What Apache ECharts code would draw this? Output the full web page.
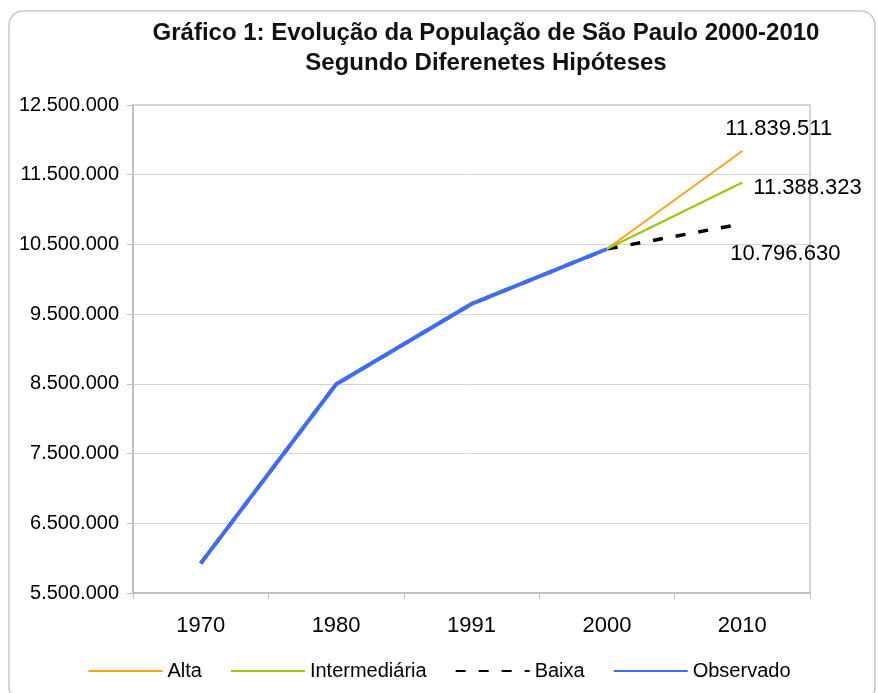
<!DOCTYPE html>
<html>
<head>
<meta charset="utf-8">
<script src="https://cdn.jsdelivr.net/npm/echarts@6/dist/echarts.min.js"></script>
<style>
  html, body { margin: 0; padding: 0; background: #fff; }
  #main { width: 878px; height: 693px; }
</style>
</head>
<body>
<div id="main"></div>
<script>
// anos e valores
var anos = ['1970', '1980', '1991', '2000', '2010'];
var observado = [5924615, 8493226, 9646185, 10434252, null];
var alta = [null, null, null, 10434252, 11839511];
var intermediaria = [null, null, null, 10434252, 11388323];
var baixa = [5924615, 8493226, 9646185, 10434252, 10796630];
var yTicks = [5500000, 12500000, 1000000]; // min, max, intervalo

var fmt = function(v) {
    return String(v).replace(/\B(?=(\d{3})+(?!\d))/g, '.');
};

// rotulo no fim da linha
var lastLabel = function(offset) {
    return {
        show: true,
        offset: offset,
        distance: 5,
        fontSize: 22,
        color: '#000',
        fontFamily: 'Liberation Sans',
        formatter: function(p) {
            return fmt(p.value);
        }
    };
};

var option = {
    animation: false,
    textStyle: { fontFamily: 'Liberation Sans' },
    graphic: [{
        type: 'rect',
        shape: { x: 9, y: 11, width: 866, height: 690, r: 14 },
        style: { fill: 'none', stroke: '#c8c8c8', lineWidth: 1.5 },
        z: -1
    }],
    title: {
        text: 'Gráfico 1: Evolução da População de São Paulo 2000-2010\nSegundo Diferenetes Hipóteses',
        left: 481,
        top: 13,
        textAlign: 'center',
        textStyle: { fontSize: 24, fontWeight: 'bold', color: '#111', lineHeight: 30 }
    },
    legend: {
        bottom: 7,
        left: 'center',
        itemWidth: 74,
        itemHeight: 10,
        itemGap: 28,
        itemStyle: { opacity: 0 },
        textStyle: { fontSize: 20, color: '#000' },
        data: ['Alta', 'Intermediária', 'Baixa', 'Observado']
    },
    grid: {
        left: 133, right: 68, top: 105, bottom: 100,
        show: true,
        borderColor: '#c8c8c8',
        borderWidth: 1.5
    },
    xAxis: {
        type: 'category',
        data: anos,
        boundaryGap: true,
        axisLine: { lineStyle: { color: '#c0c0c0', width: 2 } },
        axisTick: { show: true, length: 6, lineStyle: { color: '#c0c0c0' } },
        axisLabel: { fontSize: 22, color: '#000', margin: 22 }
    },
    yAxis: {
        type: 'value',
        min: yTicks[0],
        max: yTicks[1],
        interval: yTicks[2],
        axisLine: { show: true, lineStyle: { color: '#c0c0c0', width: 2 } },
        axisTick: { show: true, length: 6, lineStyle: { color: '#c0c0c0' } },
        splitLine: { lineStyle: { color: '#d4d4d4', width: 1 } },
        axisLabel: { fontSize: 20, color: '#000', margin: 14, formatter: fmt }
    },
    series: [
        {
            name: 'Alta',
            type: 'line',
            data: alta,
            symbol: 'none',
            color: '#f7a21b',
            lineStyle: { width: 2, color: '#f7a21b' },
            endLabel: lastLabel([-22, -22]),
            z: 3
        },
        {
            name: 'Intermediária',
            type: 'line',
            data: intermediaria,
            symbol: 'none',
            color: '#99c80a',
            lineStyle: { width: 2, color: '#99c80a' },
            endLabel: lastLabel([6, 5]),
            z: 3
        },
        {
            name: 'Baixa',
            type: 'line',
            data: baixa,
            symbol: 'none',
            color: '#000',
            lineStyle: { width: 3.5, color: '#000', type: [10, 13] },
            endLabel: lastLabel([-17, 30]),
            z: 2
        },
        {
            name: 'Observado',
            type: 'line',
            data: observado,
            symbol: 'none',
            color: '#3d6cf5',
            lineStyle: { width: 4, color: '#3d6cf5' },
            z: 4
        }
    ]
};

var myChart = echarts.init(document.getElementById('main'));
myChart.setOption(option);
</script>
</body>
</html>
